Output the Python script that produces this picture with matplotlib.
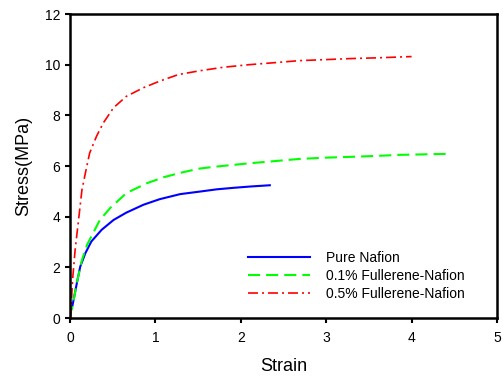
import numpy as np
import matplotlib.pyplot as plt

plt.rcParams['font.family'] = ['Liberation Sans', 'DejaVu Sans']

# Stress-strain curves
pure_strain = [0.0, 0.01, 0.03, 0.08, 0.12, 0.18, 0.25, 0.37, 0.51, 0.66, 0.86, 1.05,
               1.29, 1.52, 1.72, 1.92, 2.11, 2.34]
pure_stress = [0.0, 0.3, 0.51, 1.37, 2.03, 2.56, 3.02, 3.48, 3.87, 4.16, 4.47, 4.69,
               4.89, 4.99, 5.08, 5.14, 5.19, 5.24]

c01_strain = [0.0, 0.01, 0.03, 0.08, 0.14, 0.2, 0.27, 0.35, 0.47, 0.66, 0.9, 1.1, 1.33,
              1.52, 1.72, 2.11, 2.42, 2.69, 3.0, 3.28, 3.6, 3.86, 4.15, 4.43]
c01_stress = [0.0, 0.25, 0.45, 1.4, 2.29, 2.89, 3.35, 3.87, 4.34, 4.93, 5.32, 5.56, 5.76,
              5.9, 5.98, 6.11, 6.2, 6.28, 6.33, 6.36, 6.4, 6.44, 6.46, 6.48]

c05_strain = [0.0, 0.01, 0.03, 0.06, 0.1, 0.14, 0.18, 0.23, 0.31, 0.39, 0.51, 0.66, 0.86,
              1.05, 1.27, 1.52, 1.8, 2.1, 2.4, 2.69, 3.0, 3.28, 3.6, 4.0]
c05_stress = [0.0, 0.2, 1.5, 2.69, 3.87, 5.06, 5.72, 6.51, 7.17, 7.7, 8.3, 8.75, 9.09,
              9.35, 9.61, 9.76, 9.9, 10.0, 10.08, 10.16, 10.2, 10.24, 10.27, 10.32]

labels = ['Pure Nafion', '0.1% Fullerene-Nafion', '0.5% Fullerene-Nafion']

fig = plt.figure(figsize=(5.03, 3.76), dpi=100)
ax = fig.add_axes([70 / 503, 58 / 376, 427 / 503, 304 / 376])

ax.plot(pure_strain, pure_stress, color='#0000ff', lw=1.5, label=labels[0])
ax.plot(c01_strain, c01_stress, color='#00ff00', lw=1.5, dashes=(5.8, 2.9), label=labels[1])
ax.plot(c05_strain, c05_stress, color='#ff0000', lw=1.2, dashes=(6, 2.4, 1.2, 2.4), label=labels[2])

ax.set_xlim(0, 5)
ax.set_ylim(0, 12)
ax.set_xticks(range(0, 6))
ax.set_yticks(range(0, 13, 2))
ax.tick_params(direction='out', length=3.6, width=1.5, labelsize=10, colors='black')
ax.tick_params(axis='x', pad=6)
ax.tick_params(top=False, right=False)
for s in ax.spines.values():
    s.set_linewidth(1.8)

ax.set_xlabel('Strain', fontsize=13)
ax.set_ylabel('Stress(MPa)', fontsize=13)
ax.xaxis.set_label_coords(0.5, -0.13)
ax.yaxis.set_label_coords(-0.089, 0.5)

ax.legend(loc='upper left', bbox_to_anchor=(235 / 503, 138 / 376), bbox_transform=fig.transFigure,
          frameon=False, fontsize=10, handlelength=4.5, handletextpad=1.15,
          labelspacing=0.3, borderpad=0.4)

fig.savefig('out.png', dpi=100)
